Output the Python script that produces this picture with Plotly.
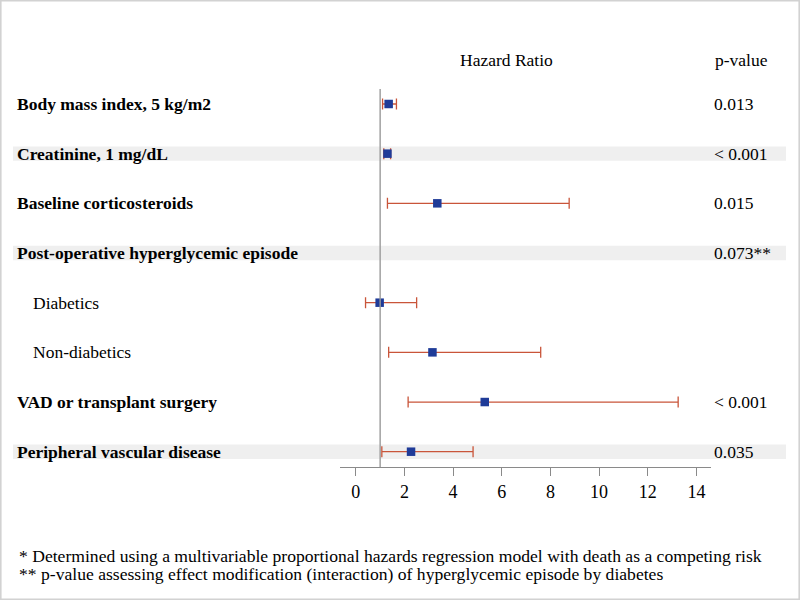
import plotly.graph_objects as go

labels = ["Body mass index, 5 kg/m2", "Creatinine, 1 mg/dL", "Baseline corticosteroids",
          "Post-operative hyperglycemic episode", "Diabetics", "Non-diabetics",
          "VAD or transplant surgery", "Peripheral vascular disease"]
bold = [True, True, True, True, False, False, True, True]
shaded = [False, True, False, True, False, False, False, True]
hr = [1.35, 1.3, 3.35, None, 0.98, 3.15, 5.3, 2.27]
ci_low = [1.1, 1.15, 1.3, None, 0.4, 1.35, 2.15, 1.07]
ci_high = [1.67, 1.43, 8.77, None, 2.5, 7.6, 13.25, 4.82]
pvals = ["0.013", "< 0.001", "0.015", "0.073**", "", "", "< 0.001", "0.035"]
xticks = [0, 2, 4, 6, 8, 10, 12, 14]
footnotes = ["* Determined using a multivariable proportional hazards regression model with death as a competing risk",
             "** p-value assessing effect modification (interaction) of hyperglycemic episode by diabetes"]

W, H = 800, 600
L, R, T, B = 340, 711, 79, 467
FONT = "Liberation Serif, Times New Roman, serif"

def px(x):
    return (x - L) / (R - L)

def py(y):
    return (B - y) / (B - T)

rows = list(range(len(labels)))
err_plus = [None if h is None else hi - h for h, hi in zip(hr, ci_high)]
err_minus = [None if h is None else h - lo for h, lo in zip(hr, ci_low)]

fig = go.Figure()
fig.add_trace(go.Scatter(
    x=hr, y=rows, mode="markers",
    marker=dict(symbol="square", size=8.5, color="#1f3b98"),
    error_x=dict(type="data", symmetric=False, array=err_plus, arrayminus=err_minus,
                 color="#c9553a", thickness=1.3, width=5.5),
    showlegend=False, hoverinfo="skip"))

shapes = []
for i, s in enumerate(shaded):
    if s:
        shapes.append(dict(type="rect", xref="paper", yref="y", x0=px(13), x1=px(786),
                           y0=i - 0.145, y1=i + 0.145, fillcolor="#efefef", line_width=0, layer="below"))
shapes.append(dict(type="line", xref="x", yref="y", x0=1, x1=1, y0=-0.3, y1=7.31,
                   line=dict(color="#9a9a9a", width=1.4)))
shapes.append(dict(type="rect", xref="paper", yref="paper", x0=px(0.8), x1=px(799.2),
                   y0=py(599.2), y1=py(0.8), line=dict(color="#d2d2d2", width=1.6)))

ann = []
for i, (lab, b) in enumerate(zip(labels, bold)):
    ann.append(dict(xref="paper", yref="y", x=px(15 if b else 31), y=i, text=f"<b>{lab}</b>" if b else lab,
                    showarrow=False, xanchor="left", yanchor="middle",
                    font=dict(family=FONT, size=17.5, color="black")))
for i, p in enumerate(pvals):
    if p:
        ann.append(dict(xref="paper", yref="y", x=px(712), y=i, text=p, showarrow=False,
                        xanchor="left", yanchor="middle", font=dict(family=FONT, size=17.5, color="black")))
ann.append(dict(xref="paper", yref="paper", x=px(506.5), y=py(60), text="Hazard Ratio", showarrow=False,
                xanchor="center", yanchor="middle", font=dict(family=FONT, size=17.5, color="black")))
ann.append(dict(xref="paper", yref="paper", x=px(741), y=py(60), text="p-value", showarrow=False,
                xanchor="center", yanchor="middle", font=dict(family=FONT, size=17.5, color="black")))
for k, f in enumerate(footnotes):
    ann.append(dict(xref="paper", yref="paper", x=px(17), y=py(556 + 18 * k), text=f, showarrow=False,
                    xanchor="left", yanchor="middle", font=dict(family=FONT, size=17.6, color="black")))

fig.update_layout(
    width=W, height=H, margin=dict(l=L, r=W - R, t=T, b=H - B, pad=0),
    paper_bgcolor="white", plot_bgcolor="white",
    shapes=shapes, annotations=ann,
    xaxis=dict(range=[-0.65, 14.6], tickvals=xticks, ticks="outside", ticklen=8, tickcolor="#8a8a8a",
               showline=True, linecolor="#8a8a8a", linewidth=1, showgrid=False, zeroline=False,
               tickfont=dict(family=FONT, size=18, color="black")),
    yaxis=dict(range=[7.308, -0.503], visible=False, showgrid=False, zeroline=False),
)
fig.write_html("out.html", config={"displayModeBar": False},
               post_script="document.body.style.margin='0';")
